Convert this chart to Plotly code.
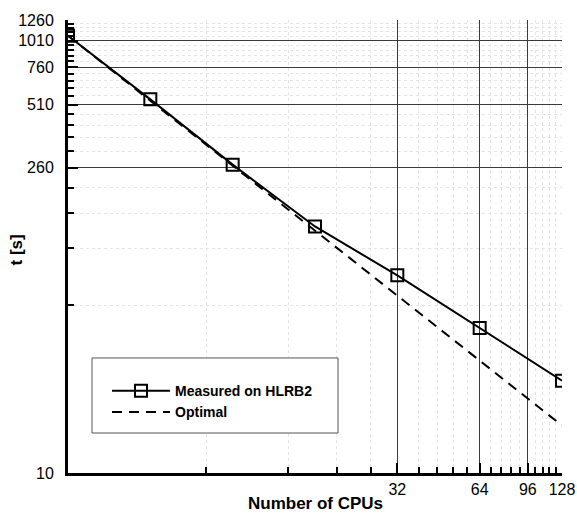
import plotly.graph_objects as go

# Strong-scaling run times on HLRB2
cpus = [2, 4, 8, 16, 32, 64, 128]
measured = [1065, 540, 269, 139, 82.5, 47.0, 26.8]
optimal = [1065, 532.5, 266.3, 133.1, 66.6, 33.3, 16.6]

x_ticks = [32, 64, 96, 128]
y_ticks = [10, 260, 510, 760, 1010, 1260]
x_minor = [round(6.4 * k, 1) for k in range(1, 20) if k % 5]
y_minor = [v for v in range(10, 1261, 50) if v not in y_ticks]

x_title = "Number of CPUs"
y_title = "t [s]"

FONT = "Liberation Sans, Arial, Helvetica, sans-serif"

fig = go.Figure()
fig.add_trace(go.Scatter(
    x=cpus, y=measured, name="Measured on HLRB2", mode="lines+markers",
    line=dict(color="black", width=2),
    marker=dict(symbol="square-open", size=12, color="black", line=dict(width=2)),
))
fig.add_trace(go.Scatter(
    x=cpus, y=optimal, name="Optimal", mode="lines",
    line=dict(color="black", width=2, dash="10px,7px"),
))

axis_common = dict(
    type="log", automargin=False,
    showline=True, linecolor="black", linewidth=3,
    ticks="inside", ticklen=10, tickwidth=2, tickcolor="black",
    showgrid=True, gridcolor="#3a3a3a", gridwidth=1,
    zeroline=False,
    tickfont=dict(family=FONT, size=16, color="black"),
)
minor_common = dict(tickmode="array", ticks="inside", ticklen=6,
                    tickwidth=1.5, tickcolor="black", showgrid=True,
                    gridcolor="#e4e4e4", griddash="dot", gridwidth=1)

fig.update_xaxes(
    **axis_common,
    range=[0.30103, 2.10721],
    tickmode="array", tickvals=x_ticks, ticktext=[str(v) for v in x_ticks],
    ticklabelstandoff=0,
    minor=dict(tickvals=x_minor, **minor_common),
)
fig.update_yaxes(
    **axis_common,
    range=[1, 3.10037],
    tickmode="array", tickvals=y_ticks, ticktext=[str(v) for v in y_ticks],
    ticklabelstandoff=8,
    minor=dict(tickvals=y_minor, **minor_common),
)

# Axis titles, placed inside the fixed margins
title_font = dict(family=FONT, size=17, color="black", weight="bold")
fig.add_annotation(text=x_title, xref="paper", yref="paper", x=0.5, y=0,
                   xanchor="center", yanchor="top", yshift=-19,
                   showarrow=False, font=title_font)
fig.add_annotation(text=y_title, xref="paper", yref="paper", x=0, y=0.5,
                   xanchor="center", yanchor="middle", xshift=-52, yshift=-4,
                   textangle=-90, showarrow=False, font=title_font)

# Frame around the legend
fig.add_shape(type="rect", xref="paper", yref="paper",
              x0=0.0486, x1=0.5466, y0=0.0883, y1=0.2539,
              line=dict(color="#555", width=1), fillcolor="white", layer="above")

fig.update_layout(
    width=577, height=516,
    margin=dict(l=68, r=15, t=20, b=43, pad=0),
    paper_bgcolor="white", plot_bgcolor="white",
    font=dict(family=FONT, color="black"),
    showlegend=True,
    legend=dict(x=0.079, y=0.216, xanchor="left", yanchor="top",
                bgcolor="rgba(0,0,0,0)", borderwidth=0,
                font=dict(family=FONT, size=14, color="black", weight="bold"),
                itemwidth=58, tracegroupgap=0),
)

fig.write_html("out.html")
